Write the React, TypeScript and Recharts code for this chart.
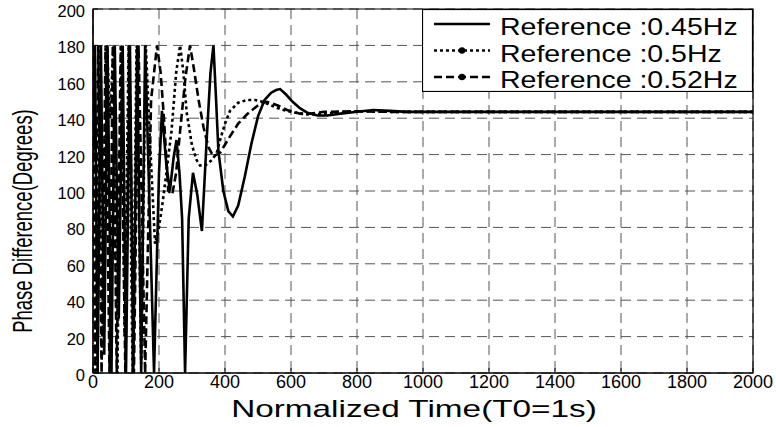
import {
  CartesianGrid,
  Label,
  Legend,
  Line,
  LineChart,
  ReferenceArea,
  XAxis,
  YAxis,
} from 'recharts';

// Normalized time (T0 = 1s) and phase difference in degrees.
const T045 = [
  0, 6, 14, 24, 34, 44, 56, 66, 78, 90, 100, 112, 122, 134, 146, 158, 185, 200,
  209, 222, 233, 244, 253, 262, 270, 279, 290, 303, 316, 330, 345, 356, 365, 373,
  380, 395, 410, 424, 440, 460, 480, 500, 520, 540, 555, 567, 585, 605, 627, 650,
  680, 710, 750, 800, 850, 900, 950, 1000, 1200, 1500, 2000,
];
const V045 = [
  120, 180, 0, 180, 10, 180, 0, 180, 30, 180, 0, 180, 0, 180, 0, 180, 0, 110,
  144, 115, 100, 118, 128, 110, 85, 0, 85, 110, 98, 78, 130, 165, 180, 150,
  122, 100, 89, 86, 92, 108, 126, 141, 150, 154, 155.5, 156, 153, 149, 145.5, 143,
  141.5, 141.5, 142.5, 143.5, 144.5, 144, 143.5, 143.5, 143.5, 143.5, 143.5,
];

const T05 = [
  0, 4, 12, 20, 30, 42, 52, 62, 74, 86, 96, 108, 120, 132, 146, 160, 172, 188,
  200, 212, 238, 252, 264, 274, 284, 300, 314, 324, 340, 360, 375, 385, 400, 415,
  440, 466, 490, 515, 540, 567, 600, 627, 660, 700, 750, 800, 850, 900, 1000, 2000,
];
const V05 = [
  150, 180, 0, 180, 20, 180, 140, 180, 0, 180, 20, 180, 0, 180, 5, 180, 130, 71,
  80, 95, 133, 165, 180, 165, 143, 125, 117, 114, 114, 117, 121, 128, 137, 144,
  148.5, 150, 150, 149, 147, 145, 143.5, 142.5, 142, 142.5, 143.5, 143.8, 143.8, 143.5, 143.5, 143.5,
];

const T052 = [
  0, 6, 16, 26, 38, 50, 60, 72, 84, 98, 110, 124, 138, 158, 176, 194, 205, 215,
  228, 240, 252, 265, 280, 294, 305, 320, 335, 350, 365, 385, 415, 440, 466, 506,
  527, 560, 588, 627, 660, 700, 800, 900, 2000,
];
const V052 = [
  180, 0, 180, 0, 180, 0, 180, 0, 180, 0, 180, 0, 180, 0, 150, 180, 165, 140,
  100, 98, 110, 135, 162, 180, 168, 150, 135, 124, 119, 121, 130, 137, 142, 148,
  149, 147, 144.5, 142.5, 142.5, 143.5, 143.8, 143.5, 143.5,
];

const X_TICKS = [0, 200, 400, 600, 800, 1000, 1200, 1400, 1600, 1800, 2000];
const Y_TICKS = [0, 20, 40, 60, 80, 100, 120, 140, 160, 180, 200];

const LABELS = ['Reference :0.45Hz', 'Reference :0.5Hz', 'Reference :0.52Hz'];

const toPoints = (t: number[], v: number[]) => t.map((x, i) => ({ t: x, v: v[i] }));

const SERIES = [
  { name: LABELS[0], data: toPoints(T045, V045), dash: undefined as string | undefined, marker: false },
  { name: LABELS[1], data: toPoints(T05, V05), dash: '3 3', marker: true },
  { name: LABELS[2], data: toPoints(T052, V052), dash: '8 4', marker: true },
];

const FONT = '"Liberation Sans", Arial, Helvetica, sans-serif';

function XTick({ x, y, payload }: any) {
  return (
    <g>
      <line x1={x} x2={x} y1={y} y2={y - 5} stroke="#000" />
      <text x={x} y={y + 15} textAnchor="middle" fontSize={18} fontFamily={FONT} fill="#000">
        {payload.value}
      </text>
    </g>
  );
}

function YTick({ x, y, payload }: any) {
  return (
    <g>
      <line x1={x} x2={x + 5} y1={y} y2={y} stroke="#000" />
      <text x={x - 8} y={y + 8} textAnchor="end" fontSize={16.5} fontFamily={FONT} fill="#000">
        {payload.value}
      </text>
    </g>
  );
}

function LegendBox() {
  return (
    <svg width={331} height={83} style={{ display: 'block' }}>
      <rect x={0.5} y={0.5} width={330} height={82} fill="#fff" stroke="#000" strokeWidth={1.2} />
      {SERIES.map((s, i) => {
        const cy = 15 + i * 26.5;
        return (
          <g key={s.name}>
            <line x1={12} x2={68} y1={cy} y2={cy} stroke="#000" strokeWidth={2.6} strokeDasharray={s.dash} />
            {s.marker && <circle cx={40} cy={cy} r={3.2} fill="#000" />}
            <text
              transform={`translate(78 ${cy + 11}) scale(1.24 1)`}
              fontSize={23}
              fontFamily={FONT}
              fill="#000"
            >
              {s.name}
            </text>
          </g>
        );
      })}
    </svg>
  );
}

export default function App() {
  return (
    <div style={{ position: 'absolute', left: 0, top: 0, background: '#fff' }}>
      <LineChart width={776} height={427} margin={{ top: 9, right: 23, bottom: 0, left: 13 }}>
        <CartesianGrid stroke="#555" strokeDasharray="10 6" verticalValues={X_TICKS} horizontalValues={Y_TICKS} />
        <XAxis
          type="number"
          dataKey="t"
          domain={[0, 2000]}
          ticks={X_TICKS}
          height={54}
          tickSize={0}
          tickMargin={0}
          tickLine={false}
          axisLine={{ stroke: '#000', strokeWidth: 1.2 }}
          tick={<XTick />}
          interval={0}
          allowDataOverflow
        >
          <Label
            content={({ viewBox }: any) => (
              <text
                transform={`translate(${viewBox.x + viewBox.width / 2 - 9} ${viewBox.y + 44}) scale(1.45 1)`}
                textAnchor="middle"
                fontSize={23}
                fontFamily={FONT}
                fill="#000"
              >
                Normalized Time(T0=1s)
              </text>
            )}
          />
        </XAxis>
        <YAxis
          type="number"
          dataKey="v"
          domain={[0, 200]}
          ticks={Y_TICKS}
          width={80}
          tickSize={0}
          tickMargin={0}
          tickLine={false}
          axisLine={{ stroke: '#000', strokeWidth: 1.2 }}
          tick={<YTick />}
          interval={0}
          allowDataOverflow
        >
          <Label
            content={({ viewBox }: any) => (
              <text
                transform={`translate(${viewBox.x + 10} ${viewBox.y + viewBox.height / 2 + 30}) rotate(-90) scale(0.66 1)`}
                textAnchor="middle"
                dominantBaseline="central"
                fontSize={28}
                fontFamily={FONT}
                fill="#000"
              >
                Phase Difference(Degrees)
              </text>
            )}
          />
        </YAxis>
        <ReferenceArea x1={0} x2={2000} y1={0} y2={200} fill="none" stroke="#000" strokeWidth={1.2} />
        {SERIES.map((s) => (
          <Line
            key={s.name}
            data={s.data}
            dataKey="v"
            name={s.name}
            type="linear"
            stroke="#000"
            strokeWidth={2.6}
            strokeDasharray={s.dash}
            dot={false}
            activeDot={false}
            isAnimationActive={false}
          />
        ))}
        <Legend
          layout="horizontal"
          verticalAlign="middle"
          align="center"
          content={<LegendBox />}
          wrapperStyle={{ left: 422, top: 9, width: 331, height: 83 }}
        />
      </LineChart>
    </div>
  );
}
